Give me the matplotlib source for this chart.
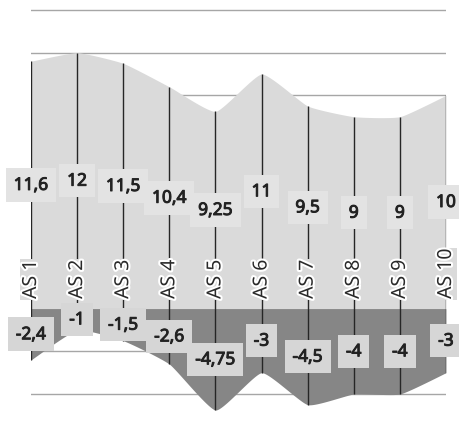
import numpy as np
import matplotlib
matplotlib.use("Agg")
import matplotlib.pyplot as plt
import matplotlib.patheffects as pe

categories = ['AS 1', 'AS 2', 'AS 3', 'AS 4', 'AS 5', 'AS 6', 'AS 7', 'AS 8', 'AS 9', 'AS 10']
positive = [11.6, 12, 11.5, 10.4, 9.25, 11, 9.5, 9, 9, 10]
negative = [-2.4, -1, -1.5, -2.6, -4.75, -3, -4.5, -4, -4, -3]


def fmt(v):
    s = ('%g' % v)
    return s.replace('.', ',')


def smooth(xv, yv, n=40, k=0.08):
    P = np.column_stack([xv, yv]).astype(float)
    m = len(P)
    out = []
    t = np.linspace(0, 1, n)[:, None]
    for i in range(m - 1):
        p0 = P[max(i - 1, 0)]
        p1 = P[i]
        p2 = P[i + 1]
        p3 = P[min(i + 2, m - 1)]
        c1 = p1 + (p2 - p0) * k
        c2 = p2 - (p3 - p1) * k
        B = ((1 - t) ** 3) * p1 + 3 * ((1 - t) ** 2) * t * c1 + 3 * (1 - t) * t ** 2 * c2 + t ** 3 * p2
        if i > 0:
            B = B[1:]
        out.append(B)
    out = np.vstack(out)
    return out[:, 0], out[:, 1]


W, H = 459, 435
fig = plt.figure(figsize=(W / 100, H / 100), dpi=100)
ax = fig.add_axes([31 / W, 0, 415 / W, 1])

x = np.arange(len(categories))
px = 21.333
ax.set_xlim(0, len(categories) - 1)
ax.set_ylim(-4 - 40 / px, 14 + 11 / px)

# grid
ax.set_yticks(np.arange(-4, 15, 2))
ax.grid(axis='y', color='#a6a6a6', lw=1)
ax.set_axisbelow(True)
ax.tick_params(left=False, bottom=False, labelleft=False, labelbottom=False)
ax.set_xticks([])
for s in ax.spines.values():
    s.set_visible(False)

light = '#dadada'
dark = '#868686'
sx, sy = smooth(x, positive)
ax.fill_between(sx, 0, sy, color=light, lw=0, zorder=1)
nx, ny = smooth(x, negative)
ax.fill_between(nx, ny, 0, color=dark, lw=0, zorder=1)

ax.vlines(x, negative, positive, color='#262626', lw=1, zorder=2)

family = ['Noto Sans', 'DejaVu Sans']
bold = [pe.withStroke(linewidth=0.7, foreground='#222222')]
for i, cat in enumerate(categories):
    ax.annotate(cat, (i, 0), xytext=(0, 7), textcoords='offset points',
                rotation=90, ha='center', va='bottom', fontsize=14,
                color='#2a2a2a', family=family, zorder=4,
                bbox=dict(boxstyle='square,pad=0.05', fc=light, ec='none'),
                path_effects=[pe.withStroke(linewidth=3, foreground='white')])
    ax.text(i, positive[i] / 2, fmt(positive[i]), ha='center', va='center',
            fontsize=12.5, color='#222222', family=family, zorder=5,
            path_effects=bold,
            bbox=dict(boxstyle='square,pad=0.45', fc='#e3e3e3', ec='none'))
    ax.text(i, negative[i] / 2, fmt(negative[i]), ha='center', va='center',
            fontsize=12.5, color='#222222', family=family, zorder=5,
            path_effects=bold,
            bbox=dict(boxstyle='square,pad=0.45', fc='#d6d6d6', ec='none'))

fig.savefig('out.png', dpi=100)
